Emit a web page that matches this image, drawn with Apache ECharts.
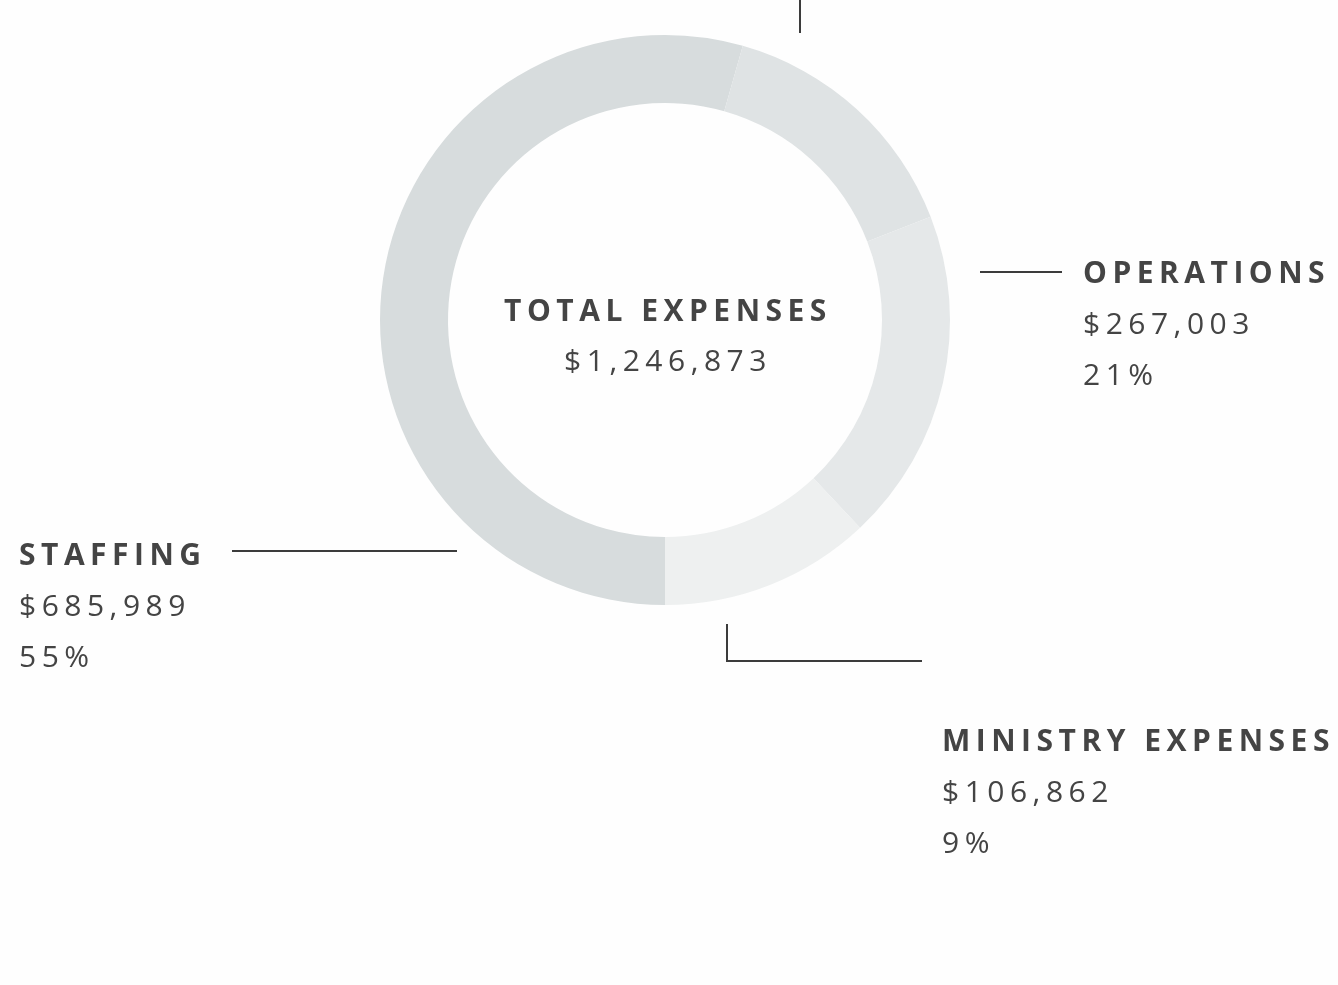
<!DOCTYPE html>
<html>
<head>
<meta charset="utf-8">
<script src="https://cdn.jsdelivr.net/npm/echarts@6/dist/echarts.min.js"></script>
<style>
  html, body { margin: 0; padding: 0; background: #fefefe; }
  #chart { width: 1338px; height: 985px; }
</style>
</head>
<body>
<div id="chart"></div>
<script>
// slices, clockwise from 6 o'clock
var categories = ['STAFFING', 'OTHER', 'OPERATIONS', 'MINISTRY EXPENSES']
var shares = [54.4, 14.7, 18.9, 12.0]   // arc sizes (%)
var amounts = ['$685,989', '', '$267,003', '$106,862']
var percents = ['55%', '', '21%', '9%']
var totalLabel = 'TOTAL EXPENSES'
var totalAmount = '$1,246,873'

var sliceColors = ['#d7dcdd', '#dfe3e4', '#e5e8e9', '#eef0f0']
// label anchors (top-left of each text block)
var labelPos = [[19, 531], null, [1083, 249], [942, 717]]
var textColor = '#444444'
var lineColor = '#3c3c3c'

var dom = document.getElementById('chart')
var chart = echarts.init(dom, null, { renderer: 'canvas' })

var seriesData = categories.map(function (name, i) {
  return {
    name: name,
    value: shares[i],
    itemStyle: { color: sliceColors[i] },
    label: { show: !!labelPos[i] }
  }
})

function leader (points) {
  return {
    type: 'polyline',
    silent: true,
    shape: { points: points },
    style: { stroke: lineColor, lineWidth: 2, fill: null }
  }
}

var option = {
  backgroundColor: '#fefefe',
  animation: false,
  series: [{
    type: 'pie',
    center: [665, 320],
    radius: [217, 285],
    startAngle: -90,
    clockwise: true,
    avoidLabelOverlap: false,
    emphasis: { disabled: true },
    itemStyle: { borderWidth: 0 },
    labelLine: { show: false },
    label: {
      position: 'outside',
      formatter: function (p) {
        var i = p.dataIndex
        return '{n|' + categories[i] + '}\n{v|' + amounts[i] + '}\n{v|' + percents[i] + '}'
      },
      rich: {
        n: { fontFamily: 'Open Sans', fontWeight: 700, fontSize: 30, lineHeight: 51, color: textColor },
        v: { fontFamily: 'Open Sans', fontWeight: 400, fontSize: 30, lineHeight: 51, color: textColor }
      }
    },
    labelLayout: function (params) {
      var pos = labelPos[params.dataIndex]
      if (!pos) return {}
      return { x: pos[0], y: pos[1], align: 'left', verticalAlign: 'top' }
    },
    data: seriesData
  }],
  graphic: [
    leader([[800, 0], [800, 33]]),
    leader([[980, 272], [1062, 272]]),
    leader([[232, 551], [457, 551]]),
    leader([[727, 624], [727, 661], [922, 661]]),
    {
      type: 'text',
      silent: true,
      x: 668, y: 312,
      style: {
        text: totalLabel, textAlign: 'center', textVerticalAlign: 'middle',
        fontFamily: 'Open Sans', fontWeight: 700, fontSize: 30, fill: textColor
      }
    },
    {
      type: 'text',
      silent: true,
      x: 668, y: 362,
      style: {
        text: totalAmount, textAlign: 'center', textVerticalAlign: 'middle',
        fontFamily: 'Open Sans', fontWeight: 400, fontSize: 30, fill: textColor
      }
    }
  ]
}

chart.setOption(option)

// tracked-out type like the original: canvas exists only after first paint
function track () {
  var c = dom.querySelector('canvas')
  if (!c) return false
  c.getContext('2d').letterSpacing = '5.5px'
  chart.setOption(option, true)
  return true
}
if (!track()) {
  chart.on('finished', function once () {
    chart.off('finished', once)
    track()
  })
}
</script>
</body>
</html>
